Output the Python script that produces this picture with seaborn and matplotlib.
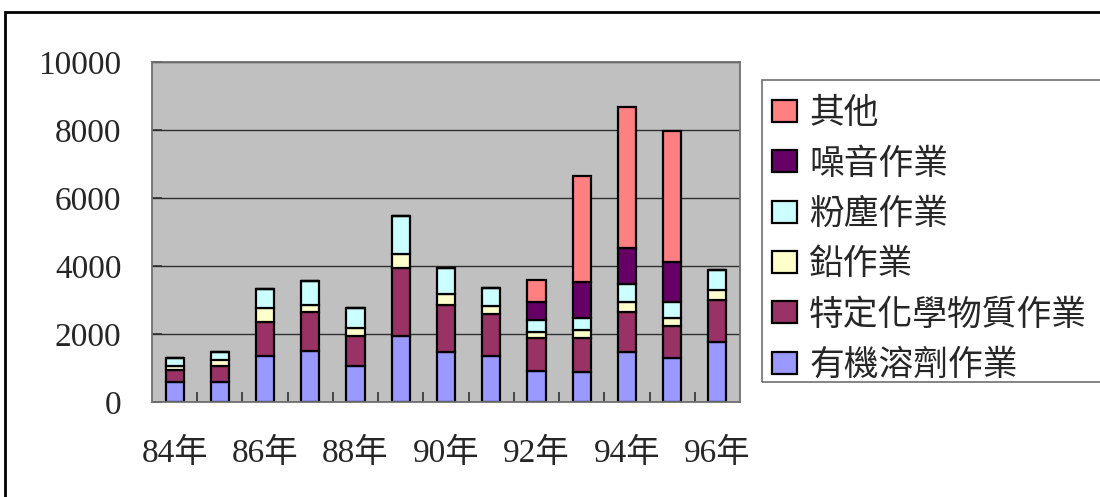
import numpy as np
import pandas as pd
import matplotlib
matplotlib.use("Agg")
import matplotlib.pyplot as plt
from matplotlib.patches import Rectangle
import seaborn as sns

# 各年度特殊健康檢查人數（依作業類別）
years = ["84年", "85年", "86年", "87年", "88年", "89年", "90年",
         "91年", "92年", "93年", "94年", "95年", "96年"]
organic_solvent = [590, 590, 1340, 1510, 1050, 1950, 1460, 1340, 920, 870, 1460, 1295, 1755]
specific_chem = [340, 460, 1000, 1140, 900, 1990, 1400, 1250, 960, 1000, 1175, 950, 1235]
lead = [120, 200, 420, 215, 225, 410, 315, 235, 180, 235, 305, 225, 315]
dust = [240, 235, 550, 685, 600, 1135, 765, 530, 360, 365, 540, 480, 590]
noise = [0, 0, 0, 0, 0, 0, 0, 0, 520, 1060, 1050, 1175, 0]
other = [0, 0, 0, 0, 0, 0, 0, 0, 660, 3130, 4135, 3835, 0]

series_names = ["有機溶劑作業", "特定化學物質作業", "鉛作業", "粉塵作業", "噪音作業", "其他"]
series_values = [organic_solvent, specific_chem, lead, dust, noise, other]
series_colors = ["#9999FF", "#993366", "#FFFFCC", "#CCFFFF", "#660066", "#FF8080"]

y_ticks = [0, 2000, 4000, 6000, 8000, 10000]
x_tick_labels = ["84年", "86年", "88年", "90年", "92年", "94年", "96年"]

sns.set_style("white")
plt.rcParams["font.family"] = ["Liberation Serif", "Noto Sans CJK TC"]

W, H = 1100, 497
fig = plt.figure(figsize=(W / 100, H / 100), dpi=100)
fig.patch.set_facecolor("white")
ax = fig.add_axes([152 / W, 1 - 402 / H, (740 - 152) / W, (402 - 62) / H])
ax.set_facecolor("#C0C0C0")

bottom = np.zeros(len(years))
for name, vals, col in zip(series_names, series_values, series_colors):
    df = pd.DataFrame({"year": years, "value": vals})
    sns.barplot(data=df, x="year", y="value", order=years, bottom=bottom,
                color=col, saturation=1, width=0.4, edgecolor="black",
                linewidth=1.6, label=name, ax=ax, errorbar=None)
    bottom = bottom + np.array(vals)

handles, labels = ax.get_legend_handles_labels()
if ax.get_legend() is not None:
    ax.get_legend().remove()

ax.set_ylim(0, 10000)
ax.set_xlim(-0.5, len(years) - 0.5)
ax.set_yticks(y_ticks)
ax.set_yticklabels([str(v) for v in y_ticks])
ax.set_xticks(range(0, len(years), 2))
ax.set_xticklabels(x_tick_labels)
ax.set_xticks(np.arange(0.5, len(years) - 0.5, 1), minor=True)
ax.set_xlabel("")
ax.set_ylabel("")

ax.yaxis.grid(True, color="#303030", linewidth=1.0)
ax.set_axisbelow(True)

ax.tick_params(axis="y", direction="in", length=7, width=1.2, color="#303030",
               labelsize=24, pad=22, left=True)
ax.tick_params(axis="x", which="major", length=0, labelsize=24, pad=26)
ax.tick_params(axis="x", which="minor", direction="in", length=7, width=1.2,
               color="#303030", bottom=True)

for side in ["left", "bottom", "top", "right"]:
    ax.spines[side].set_visible(True)
    ax.spines[side].set_color("#707070")
    ax.spines[side].set_linewidth(1.3)

# legend box frame, drawn separately so the entries can sit freely inside
fig.patches.append(Rectangle((762 / W, 1 - 382 / H), 0.5, (382 - 80) / H,
                             transform=fig.transFigure, fill=False,
                             edgecolor="#707070", linewidth=1.2))

leg = fig.legend(handles[::-1], labels[::-1],
                 loc="upper left", bbox_to_anchor=(762 / W, 1 - 86 / H),
                 bbox_transform=fig.transFigure, borderaxespad=0,
                 frameon=False,
                 prop={"family": ["Noto Sans CJK TC"], "size": 25},
                 handlelength=0.7, handleheight=0.6, handletextpad=0.36,
                 labelspacing=0.44, borderpad=0.3)

# outer chart border
fig.patches.append(Rectangle((5 / W, -0.2), 1.2, 1.2 - 12 / H,
                             transform=fig.transFigure, fill=False,
                             edgecolor="black", linewidth=2.0))

fig.savefig("out.png", dpi=100)
